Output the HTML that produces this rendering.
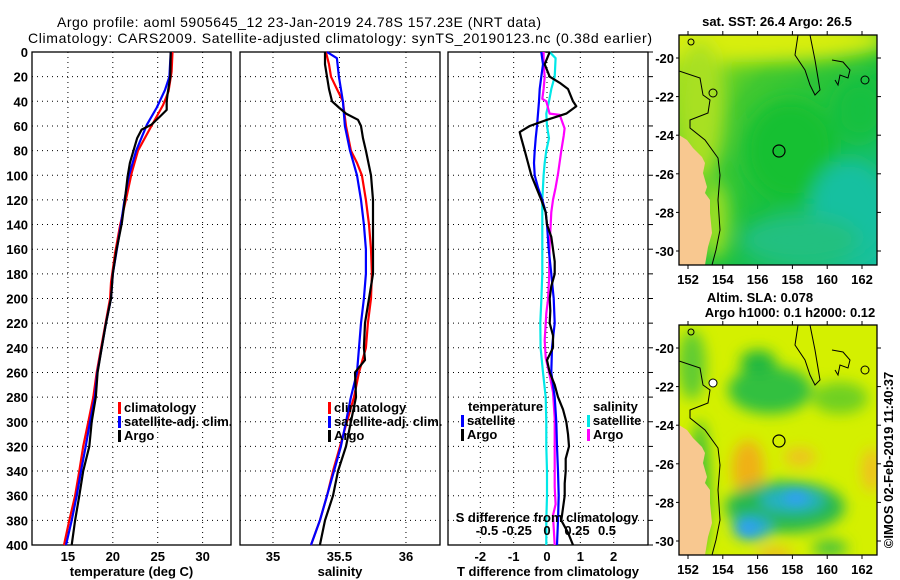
<!DOCTYPE html>
<html><head><meta charset="utf-8">
<style>
html,body{margin:0;padding:0;background:#fff;}
svg{display:block;font-family:"Liberation Sans",sans-serif;}
.t{font-size:13px;font-weight:bold;fill:#000;}
.ttl{font-size:14px;fill:#000;}
.grid{stroke:#000;stroke-width:1;stroke-dasharray:1 4;}
.ax{fill:none;stroke:#000;stroke-width:1.3;}
</style></head>
<body>
<svg id="chart" width="900" height="580" viewBox="0 0 900 580">
<defs>
<filter id="bl" x="-50%" y="-50%" width="200%" height="200%"><feGaussianBlur stdDeviation="9"/></filter>
<filter id="bl3" x="-50%" y="-50%" width="200%" height="200%"><feGaussianBlur stdDeviation="7"/></filter>
<filter id="bl2" x="-50%" y="-50%" width="200%" height="200%"><feGaussianBlur stdDeviation="5"/></filter>
<clipPath id="c1"><rect x="679" y="35" width="198" height="230"/></clipPath>
<clipPath id="c2"><rect x="679" y="325" width="198" height="230"/></clipPath>
<linearGradient id="sstg" x1="0" y1="0" x2="1" y2="1">
<stop offset="0" stop-color="#c8ea12"/><stop offset="0.3" stop-color="#40c830"/><stop offset="0.6" stop-color="#18c040"/><stop offset="1" stop-color="#18c0a0"/>
</linearGradient>
</defs>
<text class="ttl" x="57" y="27" textLength="484">Argo profile: aoml 5905645_12 23-Jan-2019 24.78S 157.23E (NRT data)</text>
<text class="ttl" x="28" y="43" textLength="624">Climatology: CARS2009. Satellite-adjusted climatology: synTS_20190123.nc (0.38d earlier)</text>
<g id="panels"></g>
<g id="maps">
 <g clip-path="url(#c1)">
  <rect x="679" y="35" width="198" height="230" fill="url(#sstg)"/>
  <g filter="url(#bl)">
   <ellipse cx="760" cy="40" rx="130" ry="22" fill="#d8ee10"/>
   <ellipse cx="700" cy="110" rx="25" ry="70" fill="#a8e020"/>
   <ellipse cx="715" cy="220" rx="14" ry="40" fill="#a0e020"/>
   <ellipse cx="790" cy="150" rx="45" ry="50" fill="#18c030"/>
   <ellipse cx="850" cy="210" rx="40" ry="50" fill="#18c0a0"/>
   <ellipse cx="800" cy="240" rx="60" ry="25" fill="#20c080"/>
   <ellipse cx="860" cy="110" rx="25" ry="30" fill="#18c040"/>
  </g>
  <path d="M679,135 L687,140 L693,148 L702,157 L705,163 L703,173 L707,187 L705,193 L710,200 L710,213 L712,233 L708,247 L705,265 L679,265Z" fill="#f8c890"/>
  <path d="M679,71 L700,78 L703,95 L710,100 L708,113 L690,120 L690,128 L705,140 L718,158 L720,175 L718,200 L720,230 L716,250 L712,265" fill="none" stroke="#000" stroke-width="1"/>
  <path d="M798,35 L795,55 L805,70 L810,85 L815,95 L820,90 L815,60 L810,35" fill="none" stroke="#000" stroke-width="1"/>
  <path d="M832,60 L843,62 L850,70 L848,78 L840,75 L838,85 L835,80" fill="none" stroke="#000" stroke-width="1"/>
  <circle cx="713" cy="93" r="4" fill="none" stroke="#000"/>
  <circle cx="865" cy="80" r="4" fill="none" stroke="#000"/>
  <circle cx="691" cy="42" r="3" fill="none" stroke="#000"/>
  <circle cx="779" cy="151" r="6" fill="none" stroke="#000" stroke-width="1.2"/>
 </g>
 <rect x="679" y="35" width="198" height="230" class="ax"/>
 <g clip-path="url(#c2)">
  <rect x="679" y="325" width="198" height="230" fill="#d4f000"/>
  <g filter="url(#bl3)">
   <ellipse cx="770" cy="390" rx="42" ry="24" fill="#30c040"/>
   <ellipse cx="758" cy="362" rx="18" ry="12" fill="#20b840"/>
   <ellipse cx="840" cy="398" rx="28" ry="16" fill="#70d020"/>
   <ellipse cx="692" cy="365" rx="14" ry="35" fill="#60cc30"/>
   <ellipse cx="700" cy="490" rx="10" ry="70" fill="#40c038"/>
   <ellipse cx="748" cy="468" rx="16" ry="28" fill="#f0b018"/>
   <ellipse cx="800" cy="457" rx="16" ry="9" fill="#f0c020"/>
   <ellipse cx="872" cy="470" rx="10" ry="22" fill="#f0c020"/>
   <ellipse cx="785" cy="507" rx="60" ry="26" fill="#28b850"/>
   <ellipse cx="792" cy="500" rx="32" ry="12" fill="#28b0c8"/>
   <ellipse cx="752" cy="528" rx="20" ry="12" fill="#28a8d8"/>
   <ellipse cx="775" cy="555" rx="18" ry="7" fill="#f0b820"/>
   <ellipse cx="830" cy="548" rx="18" ry="8" fill="#40c040"/>
  </g>
  <g filter="url(#bl2)">
   <ellipse cx="796" cy="498" rx="12" ry="6" fill="#30a0f0"/>
   <ellipse cx="748" cy="528" rx="8" ry="6" fill="#30a0f0"/>
  </g>
  <path d="M679,425 L687,430 L693,438 L702,447 L705,453 L703,463 L707,477 L705,483 L710,490 L710,503 L712,523 L708,537 L705,555 L679,555Z" fill="#f8c890"/>
  <path d="M679,361 L700,368 L703,385 L710,390 L708,403 L690,410 L690,418 L705,430 L718,448 L720,465 L718,490 L720,520 L716,540 L712,555" fill="none" stroke="#000" stroke-width="1"/>
  <path d="M798,325 L795,345 L805,360 L810,375 L815,385 L820,380 L815,350 L810,325" fill="none" stroke="#000" stroke-width="1"/>
  <path d="M832,350 L843,352 L850,360 L848,368 L840,365 L838,375 L835,370" fill="none" stroke="#000" stroke-width="1"/>
  <circle cx="713" cy="383" r="4" fill="#fff" stroke="#000"/>
  <circle cx="865" cy="370" r="4" fill="none" stroke="#000"/>
  <circle cx="691" cy="332" r="3" fill="none" stroke="#000"/>
  <circle cx="779" cy="441" r="6" fill="none" stroke="#000" stroke-width="1.2"/>
 </g>
 <rect x="679" y="325" width="198" height="230" class="ax"/>
 <text class="t" x="777" y="26" text-anchor="middle">sat. SST: 26.4 Argo: 26.5</text>
 <text class="t" x="760" y="302" text-anchor="middle">Altim. SLA: 0.078</text>
 <text class="t" x="790" y="317" text-anchor="middle">Argo h1000: 0.1 h2000: 0.12</text>
 <text class="t" x="0" y="0" text-anchor="middle" transform="translate(893,460) rotate(-90)">©IMOS 02-Feb-2019 11:40:37</text>
 <g id="mapticks"></g>
</g>
</svg>
<script>
const depthTicks = [0,20,40,60,80,100,120,140,160,180,200,220,240,260,280,300,320,340,360,380,400];
const tempTicks = [15,20,25,30];
const salTicks = [35,35.5,36];
const tdiffTicks = [-2,-1,0,1,2];
const sdiffTicks = [-0.5,-0.25,0,0.25,0.5];
const sdiffTickLabels = ["-0.5","-0.25","0","0.25","0.5"];
const lonTicks = [152,154,156,158,160,162];
const latTicks = [-20,-22,-24,-26,-28,-30];

const tClimDepth = [0,16,32,43,60,80,98,117,141,163,187,200,220,240,260,280,300,320,340,360,380,400];
const tClim      = [26.65,26.55,26.2,25.6,24.3,22.8,22.1,21.55,20.8,20.25,19.8,19.7,19.2,18.7,18.2,17.83,17.27,16.7,16.27,15.8,15.15,14.56];
const tSatDepth  = [0,20,31,45,59,80,100,120,140,160,180,200,220,240,260,280,300,320,340,360,380,400];
const tSat       = [26.45,26.3,25.8,24.9,23.8,22.6,21.8,21.3,20.9,20.45,20.0,19.8,19.24,18.76,18.27,18.0,17.46,16.98,16.46,15.98,15.42,14.79];
const tArgoDepth = [0,20,34,40,47,52,59,63,70,80,90,101,120,139,161,180,190,200,220,240,260,280,300,320,340,360,380,400];
const tArgo      = [26.45,26.4,26.1,26.0,26.0,25.3,24.3,23.2,22.7,22.3,21.9,21.65,21.35,21.0,20.4,20.0,19.9,19.8,19.24,18.76,18.3,18.1,17.65,17.38,16.7,16.27,15.8,15.42];

const sClimDepth = [0,10,20,30,40,60,80,90,100,120,140,160,180,200,220,240,260,280,300,320,340,360,380,400];
const sClim      = [35.398,35.421,35.436,35.481,35.526,35.549,35.586,35.632,35.669,35.699,35.722,35.737,35.744,35.737,35.714,35.699,35.647,35.609,35.556,35.504,35.451,35.406,35.353,35.286];
const sSatDepth  = [0,5,20,40,60,80,100,120,140,160,180,200,220,240,260,280,300,320,340,360,380,400];
const sSat       = [35.406,35.481,35.496,35.526,35.541,35.579,35.632,35.662,35.684,35.699,35.699,35.684,35.662,35.647,35.632,35.586,35.549,35.511,35.459,35.406,35.353,35.286];
const sArgoDepth = [0,10,20,30,40,45,50,55,60,70,80,100,120,140,160,180,200,220,240,250,260,280,300,320,340,360,380,400];
const sArgo      = [35.391,35.391,35.406,35.421,35.444,35.496,35.549,35.639,35.662,35.677,35.699,35.737,35.752,35.752,35.752,35.752,35.722,35.692,35.684,35.692,35.617,35.624,35.586,35.549,35.489,35.451,35.391,35.353];

const dtArgoDepth = [0,10,20,25,30,40,44,50,55,60,65,70,75,80,90,100,110,120,130,140,150,160,170,180,190,200,210,220,230,240,250,260,270,280,290,300,310,320,330,340,350,360,370,380,390,400];
const dtArgo      = [0.08,-0.07,0.08,0.38,0.63,0.78,0.88,0.58,0.0,-0.52,-0.82,-0.77,-0.72,-0.67,-0.57,-0.47,-0.32,-0.17,-0.04,0.0,0.13,0.18,0.23,0.23,0.13,0.08,0.1,0.08,0.18,0.18,0.0,0.08,0.23,0.33,0.48,0.58,0.63,0.66,0.56,0.56,0.53,0.53,0.48,0.43,0.63,0.78];
const dtSatDepth  = [0,10,20,30,40,50,60,70,80,90,100,110,120,130,140,160,180,200,220,240,260,280,300,320,340,360,380,400];
const dtSat       = [-0.17,-0.12,-0.17,-0.22,-0.24,-0.27,-0.3,-0.34,-0.37,-0.39,-0.37,-0.27,-0.14,-0.04,0.0,0.05,0.13,0.2,0.23,0.15,0.13,0.23,0.28,0.3,0.33,0.35,0.33,0.3];
const dsSatDepth  = [0,5,20,30,40,50,60,70,80,90,100,120,140,160,180,200,220,240,260,280,300,320,340,360,380,400];
const dsSat       = [0.022,0.072,0.064,0.036,0.017,-0.006,0.0,0.017,-0.006,-0.019,-0.028,-0.039,-0.039,-0.039,-0.039,-0.047,-0.056,-0.053,-0.033,-0.011,-0.006,-0.006,0.0,0.0,-0.006,-0.006];
const dsArgoDepth = [0,10,20,30,38,40,50,51,62,68,80,99,110,120,130,157,185,201,212,234,248,262,276,297,325,353,367,376,400];
const dsArgo      = [-0.028,-0.028,-0.019,-0.028,-0.039,-0.006,0.022,0.106,0.147,0.139,0.119,0.092,0.072,0.05,0.036,0.022,0.017,0.008,-0.006,-0.019,-0.011,0.022,0.05,0.064,0.064,0.064,0.072,0.05,0.064];

const TOP=52, BOT=545;
const yD = d => TOP + d*(BOT-TOP)/400;
const P1={l:32,r:231,min:11,max:33.16};
const P2={l:240,r:440,min:34.752,max:36.256};
const P3={l:448,r:648,min:-2.97,max:3.03};
const xT = v => P1.l + (v-P1.min)*(P1.r-P1.l)/(P1.max-P1.min);
const xS = v => P2.l + (v-P2.min)*(P2.r-P2.l)/(P2.max-P2.min);
const xDT = v => P3.l + (v-P3.min)*(P3.r-P3.l)/(P3.max-P3.min);
const xDS = v => xDT(0) + v*120;
const NS='http://www.w3.org/2000/svg';
const root=document.getElementById('panels');
function mk(tag,attrs,parent){const e=document.createElementNS(NS,tag);for(const k in attrs)e.setAttribute(k,attrs[k]);(parent||root).appendChild(e);return e;}
function txt(x,y,s,anchor,parent){const e=mk('text',{x:x,y:y,class:'t','text-anchor':anchor||'middle'},parent);e.textContent=s;return e;}

function panel(P,name,xs,ticks,labels,fx,xtitle){
  const g=mk('g',{});
  
  
  depthTicks.forEach(d=>{ if(d>0&&d<400){mk('line',{x1:P.l,x2:P.r,y1:yD(d),y2:yD(d),class:'grid'},g);} });
  ticks.forEach((v,i)=>{
    const x=fx(v);
    mk('line',{x1:x,x2:x,y1:TOP,y2:BOT,class:'grid'},g);
    const t=txt(x,BOT+16,labels[i],'middle',g);
    
    
  });
  mk('rect',{x:P.l,y:TOP,width:P.r-P.l,height:BOT-TOP,class:'ax'},g);
  const xt=txt((P.l+P.r)/2,BOT+31,xtitle,'middle',g);
  
  
  return g;
}
function line(g,depths,vals,fx,color,name){
  const pts=depths.map((d,i)=>fx(vals[i]).toFixed(1)+','+yD(d).toFixed(1)).join(' ');
  const p=mk('polyline',{points:pts,fill:'none',stroke:color,'stroke-width':2.2,'stroke-linejoin':'round'},g);
  
  
}
function legend(g,x,y,color,label){
  mk('rect',{x:x,y:y-10,width:3,height:12,fill:color},g);
  const t=txt(x+6,y,label,'start',g);
  
  
}

const g1=panel(P1,'temperature-panel',null,tempTicks,tempTicks.map(String),xT,'temperature (deg C)');
depthTicks.forEach(d=>{const t=txt(28,yD(d)+5,String(d),'end',g1);
  
  });
line(g1,tClimDepth,tClim,xT,'#ff0000','temp-climatology-line');
line(g1,tSatDepth,tSat,xT,'#0000ff','temp-satellite-line');
line(g1,tArgoDepth,tArgo,xT,'#000000','temp-argo-line');
legend(g1,118,412,'#ff0000','climatology');
legend(g1,118,426,'#0000ff','satellite-adj. clim.');
legend(g1,118,440,'#000000','Argo');

const g2=panel(P2,'salinity-panel',null,salTicks,['35','35.5','36'],xS,'salinity');
line(g2,sClimDepth,sClim,xS,'#ff0000','sal-climatology-line');
line(g2,sSatDepth,sSat,xS,'#0000ff','sal-satellite-line');
line(g2,sArgoDepth,sArgo,xS,'#000000','sal-argo-line');
legend(g2,328,412,'#ff0000','climatology');
legend(g2,328,426,'#0000ff','satellite-adj. clim.');
legend(g2,328,440,'#000000','Argo');

const g3=panel(P3,'difference-panel',null,tdiffTicks,tdiffTicks.map(String),xDT,'T difference from climatology');
line(g3,dsSatDepth,dsSat,xDS,'#00e8e8','s-diff-satellite-line');
line(g3,dsArgoDepth,dsArgo,xDS,'#ff00ff','s-diff-argo-line');
line(g3,dtSatDepth,dtSat,xDT,'#0000ff','t-diff-satellite-line');
line(g3,dtArgoDepth,dtArgo,xDT,'#000000','t-diff-argo-line');
sdiffTicks.forEach((v,i)=>{const t=txt(xDS(v),535,sdiffTickLabels[i],'middle',g3);
  
  });
const st=txt(547,522,'S difference from climatology','middle',g3);


txt(468,411,'temperature','start',g3);
legend(g3,461,425,'#0000ff','satellite');
legend(g3,461,439,'#000000','Argo');
txt(593,411,'salinity','start',g3);
legend(g3,587,425,'#00e8e8','satellite');
legend(g3,587,439,'#ff00ff','Argo');
depthTicks.forEach(d=>{mk('line',{x1:P3.r,x2:P3.r+5,y1:yD(d),y2:yD(d),stroke:'#000'},g3);});

const mt=document.getElementById('mapticks');
const lonX = lon => 688 + (lon-152)*17.4;
[[35,58,265],[325,348,555]].forEach(([top,y20,bot])=>{
  const latY = lat => y20 + (-20-lat)*19.3;
  lonTicks.forEach(lon=>{const x=lonX(lon);
    mk('line',{x1:x,x2:x,y1:bot,y2:bot+4,stroke:'#000'},mt);
    mk('line',{x1:x,x2:x,y1:top,y2:top-4,stroke:'#000'},mt);
    const t=txt(x,bot+19,String(lon),'middle',mt);
    
    });
  latTicks.forEach(lat=>{const y=latY(lat);
    mk('line',{x1:676,x2:679,y1:y,y2:y,stroke:'#000'},mt);
    mk('line',{x1:877,x2:881,y1:y,y2:y,stroke:'#000'},mt);
    const t=txt(674,y+5,String(lat),'end',mt);
    
    });
});
</script>
</body></html>
